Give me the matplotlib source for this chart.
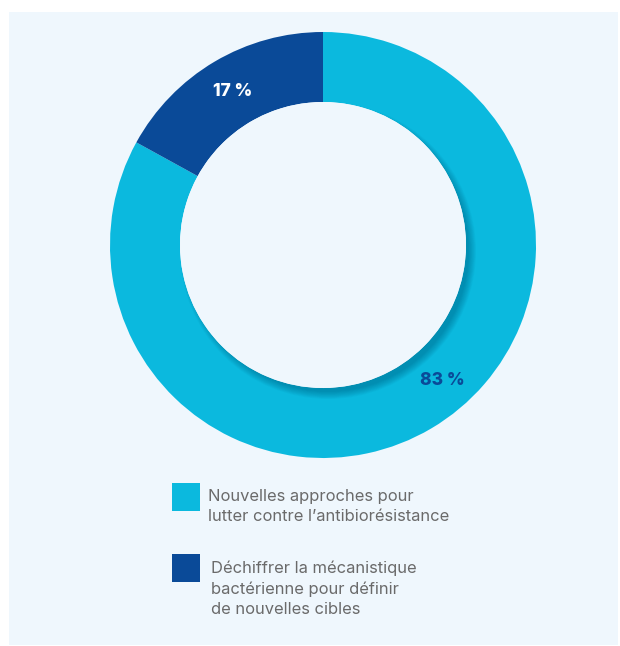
import numpy as np
import matplotlib.pyplot as plt
from matplotlib.patches import Rectangle, Circle, Wedge

labels = ["Nouvelles approches pour\nlutter contre l\u2019antibiorésistance",
          "Déchiffrer la mécanistique\nbactérienne pour définir\nde nouvelles cibles"]
values = [83, 17]
pct_labels = ["83 %", "17 %"]
colors = ["#0BB9DE", "#0A4A98"]
label_colors = ["#0A4A98", "#FFFFFF"]

W, H = 620, 646
BG = "#EFF7FD"
fig = plt.figure(figsize=(W / 100, H / 100), dpi=100)
fig.patch.set_facecolor("white")
ax = fig.add_axes([0, 0, 1, 1])

# panel background
ax.add_patch(Rectangle((9, 1), 609, H - 13, facecolor=BG, edgecolor="none", zorder=0))

cx, cy = 323, H - 245
R = 213
r_in = 143
wedges, _ = ax.pie(values, colors=colors, startangle=90, counterclock=False,
                   radius=R, center=(cx, cy), frame=True,
                   wedgeprops=dict(width=R - r_in, edgecolor="none"))
ax.set_xlim(0, W)
ax.set_ylim(0, H)
ax.set_aspect("equal")
ax.axis("off")

# soft shadow of the hole onto the ring
ring_clip = Wedge((cx, cy), R, 0, 360, width=R - r_in, transform=ax.transData)
for k in range(10):
    c = Circle((cx + 5, cy - 6), r_in + 5 - k * 0.8, facecolor="#003a5a", alpha=0.035,
               edgecolor="none", zorder=3)
    ax.add_patch(c)
    c.set_clip_path(ring_clip)
ax.add_patch(Circle((cx, cy), r_in, facecolor=BG, edgecolor="none", zorder=4))

# percentage labels
angles = [-48.6, 120.6]
dists = [181, 178]
for txt, ang, d, col in zip(pct_labels, angles, dists, label_colors):
    a = np.deg2rad(ang)
    ax.text(cx + d * np.cos(a), cy + d * np.sin(a), txt, ha="center", va="center",
            fontsize=12.5, fontweight="heavy", color=col, family="Inter", zorder=5)

# legend
sq = 28
legend_y = [H - 483, H - 554]
text_x = [208, 211]
for lab, col, y, tx in zip(labels, colors, legend_y, text_x):
    ax.add_patch(Rectangle((172, y - sq), sq, sq, facecolor=col, edgecolor="none", zorder=5))
    ax.text(tx, y - 6, lab, ha="left", va="top", fontsize=11.9, color="#6a6a6a",
            family="Inter", linespacing=1.45, zorder=5)

fig.savefig("out.png", dpi=100, facecolor="white")
